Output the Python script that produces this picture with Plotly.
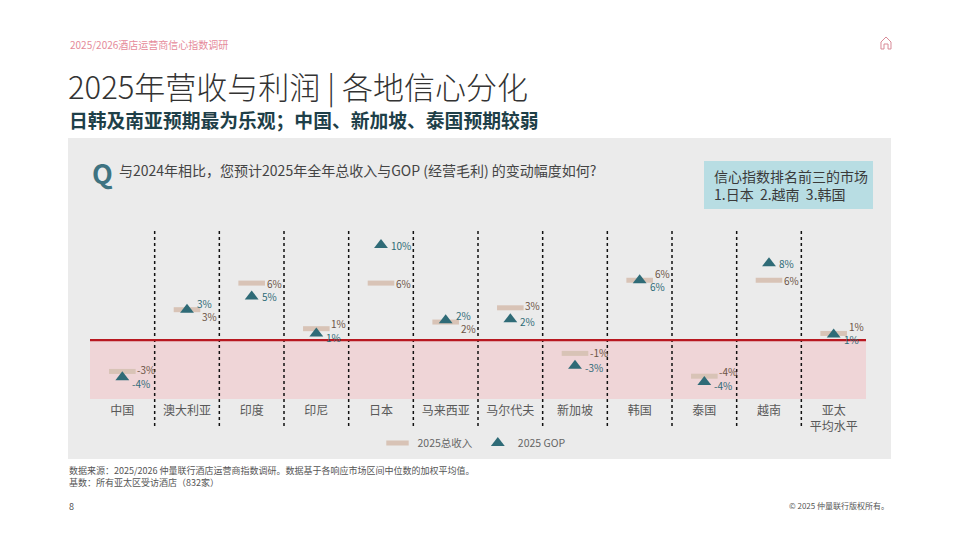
import plotly.graph_objects as go

# data
markets = ['中国', '澳大利亚', '印度', '印尼', '日本', '马来西亚', '马尔代夫',
           '新加坡', '韩国', '泰国', '越南', '亚太<br>平均水平']
revenue_2025 = [-3.3, 3.2, 6.0, 1.2, 6.0, 1.9, 3.4, -1.4, 6.3, -3.8, 6.3, 0.7]
gop_2025 = [-3.9, 3.2, 4.6, 0.7, 10.0, 2.1, 2.2, -2.7, 6.3, -4.4, 8.1, 0.6]

# label nudges (px, up is positive) so the paired labels do not overlap
rev_dy = [2, -7, 0, 5, 0, -6, 2, 1, 7, 5, 0, 7]
gop_dy = [-6, 6, 0, -4, 0, 5, -2, -2, -6, -4, 0, -5]

FONT = 'Noto Sans CJK SC'
W, H = 960, 540
L, R, T, B = 90, 866, 228, 399   # plot area in pixels


def xp(px):
    return (px - L) / (R - L)


def yp(py):
    return (B - py) / (B - T)


fig = go.Figure()

fig.add_trace(go.Scatter(
    x=markets, y=revenue_2025, mode='markers', name='2025总收入',
    marker=dict(symbol='line-ew', size=19, color='#d8c3b6',
                line=dict(width=5, color='#d8c3b6')),
    hoverinfo='skip'
))
fig.add_trace(go.Scatter(
    x=markets, y=gop_2025, mode='markers', name='2025 GOP',
    marker=dict(symbol='triangle-up', size=12, color='#2f6b77'),
    hoverinfo='skip'
))

# value labels
for i, m in enumerate(markets):
    fig.add_annotation(x=m, y=revenue_2025[i], text=f'{round(revenue_2025[i])}%',
                       showarrow=False, xanchor='left', xshift=13, yshift=rev_dy[i],
                       font=dict(family=FONT, size=10, color='#6b5445'))
    fig.add_annotation(x=m, y=gop_2025[i], text=f'{round(gop_2025[i])}%',
                       showarrow=False, xanchor='left', xshift=8, yshift=gop_dy[i],
                       font=dict(family=FONT, size=10, color='#2f6b77'))

shapes = []
# grey panel
shapes.append(dict(type='rect', xref='paper', yref='paper', layer='below',
                   x0=xp(68), x1=xp(891), y0=yp(459), y1=yp(138),
                   fillcolor='#ebebeb', line=dict(width=0)))
# negative zone
shapes.append(dict(type='rect', xref='paper', yref='y', layer='below',
                   x0=0, x1=1, y0=-6.2, y1=0,
                   fillcolor='#efd5d7', line=dict(width=0)))
# dotted separators
for i in range(len(markets) - 1):
    shapes.append(dict(type='line', xref='x', yref='paper',
                       x0=i + 0.5, x1=i + 0.5, y0=yp(426), y1=1,
                       line=dict(color='#111111', width=1.5, dash='dot')))
# zero line
shapes.append(dict(type='line', xref='paper', yref='y', x0=0, x1=1, y0=0, y1=0,
                   line=dict(color='#b81820', width=2.2)))
# info box
shapes.append(dict(type='rect', xref='paper', yref='paper',
                   x0=xp(704), x1=xp(873), y0=yp(209), y1=yp(161),
                   fillcolor='#b8dde3', line=dict(width=0)))
# home icon
pts = [(881, 49), (881, 42), (886, 37), (891, 42), (891, 49), (888, 49),
       (888, 44), (884, 44), (884, 49), (881, 49)]
path = 'M ' + ' L '.join(f'{xp(a):.4f},{yp(b):.4f}' for a, b in pts)
shapes.append(dict(type='path', xref='paper', yref='paper', path=path,
                   line=dict(color='#d98b98', width=1)))

texts = [
    (68, 44, '2025/2026酒店运营商信心指数调研', 10, '#e58a9a', 'normal', 'left'),
    (66, 85, '2025年营收与利润 | 各地信心分化', 31, '#333333', 300, 'left'),
    (67, 119, '日韩及南亚预期最为乐观；中国、新加坡、泰国预期较弱', 18.8, '#1e3f48', 'bold', 'left'),
    (90, 172, 'Q', 27, '#3e7381', 'bold', 'left'),
    (117, 170, '与2024年相比，您预计2025年全年总收入与GOP (经营毛利) 的变动幅度如何?', 14, '#444444', 'normal', 'left'),
    (712, 185, '信心指数排名前三的市场<br>1.日本  2.越南  3.韩国', 14, '#3a3a3a', 'normal', 'left'),
    (67, 470, '数据来源：2025/2026 仲量联行酒店运营商指数调研。数据基于各响应市场区间中位数的加权平均值。', 9, '#555555', 'normal', 'left'),
    (67, 482, '基数：所有亚太区受访酒店（832家）', 9, '#555555', 'normal', 'left'),
    (67, 506, '8', 9, '#555555', 'normal', 'left'),
    (891, 505, '© 2025 仲量联行版权所有。', 8, '#555555', 'normal', 'right'),
]
for x, y, t, s, c, w, anchor in texts:
    fig.add_annotation(x=xp(x), y=yp(y), xref='paper', yref='paper', text=t,
                       showarrow=False, xanchor=anchor, yanchor='middle', align='left',
                       font=dict(family=FONT, size=s, color=c, weight=w))

fig.update_layout(
    width=W, height=H, autosize=False,
    margin=dict(l=L, r=W - R, t=T, b=H - B),
    paper_bgcolor='white', plot_bgcolor='rgba(0,0,0,0)',
    font=dict(family=FONT),
    shapes=shapes,
    showlegend=True,
    legend=dict(orientation='h', x=xp(474), xanchor='center', y=yp(443), yanchor='middle',
                bgcolor='rgba(0,0,0,0)', font=dict(size=10.5, color='#666666'),
                itemwidth=30, traceorder='normal'),
    xaxis=dict(range=[-0.5, len(markets) - 0.5], showgrid=False, zeroline=False,
               showline=False, ticks='', ticklabelstandoff=3,
               tickfont=dict(size=12, color='#595959')),
    yaxis=dict(range=[-6.2, 11.8], visible=False, showgrid=False, zeroline=False),
)

# the page puts the plot 8px in from its corner; drop that margin
fig.write_html('out.html', config={'displayModeBar': False},
               post_script="document.body.style.margin='0';")
